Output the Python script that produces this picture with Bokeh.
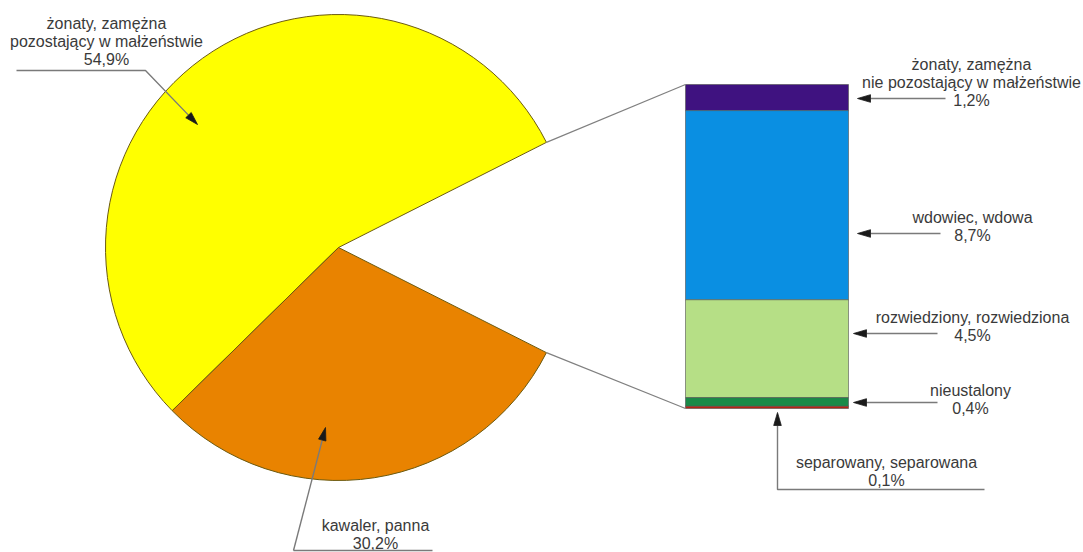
import math
from bokeh.plotting import figure
from bokeh.models import Range1d
from bokeh.core.properties import value
from bokeh.embed import file_html
from bokeh.resources import INLINE

# ---- data ----
pie_labels = ["żonaty, zamężna\npozostający w małżeństwie", "kawaler, panna"]
pie_values = [54.9, 30.2]
pie_colors = ["#FFFF00", "#E98300"]

bar_labels = ["żonaty, zamężna\nnie pozostający w małżeństwie", "wdowiec, wdowa",
              "rozwiedziony, rozwiedziona", "nieustalony", "separowany, separowana"]
bar_values = [1.2, 8.7, 4.5, 0.4, 0.1]
bar_colors = ["#3F1280", "#0A8FE2", "#B6DF86", "#1A8A48", "#B42414"]

W, H = 1083, 552
def P(xi, yi):
    return xi, H - yi

p = figure(width=W, height=H, x_range=Range1d(0, W), y_range=Range1d(0, H),
           output_backend="svg", toolbar_location=None,
           x_axis_location=None, y_axis_location=None, min_border=0)
p.grid.visible = False
p.outline_line_color = None
p.background_fill_color = "white"

FONT = value("Liberation Sans")
TXT = "#3a3a3a"

# ---- pie ----
cx, cy = P(338, 247)
R = 233
other = sum(bar_values)
half = other / 2 * 3.6
start = half
for v, c in zip(pie_values, pie_colors):
    end = start + v * 3.6
    p.wedge(x=cx, y=cy, radius=R, start_angle=start, end_angle=end,
            start_angle_units="deg", end_angle_units="deg", direction="anticlock",
            fill_color=c, line_color="#6b5a10", line_width=1)
    start = end

# ---- bar ----
bx0, btop = P(685, 84)
bx1, bbot = P(848, 408)
scale = (btop - bbot) / other
cur = btop
tops, bots = [], []
for v in bar_values:
    tops.append(cur)
    cur -= v * scale
    bots.append(cur)
p.quad(left=[bx0] * len(bar_values), right=[bx1] * len(bar_values), top=tops, bottom=bots,
       fill_color=bar_colors, line_color="#505050", line_width=0.6)

# ---- connector lines ----
a = math.radians(half)
p.line([cx + R * math.cos(a), bx0], [cy + R * math.sin(a), btop], line_color="#808080", line_width=1.2)
p.line([cx + R * math.cos(-a), bx0], [cy + R * math.sin(-a), bbot], line_color="#808080", line_width=1.2)

# ---- helpers ----
def arrow(points_img):
    pts = [P(*q) for q in points_img]
    xs = [q[0] for q in pts]; ys = [q[1] for q in pts]
    (x1, y1), (x2, y2) = pts[-2], pts[-1]
    d = math.hypot(x2 - x1, y2 - y1)
    ux, uy = (x2 - x1) / d, (y2 - y1) / d
    L, w = 13, 3.8
    bxp, byp = x2 - ux * L, y2 - uy * L
    xs[-1], ys[-1] = bxp, byp
    p.line(xs, ys, line_color="#7a7a7a", line_width=1.4)
    p.patch([x2, bxp - uy * w, bxp + uy * w], [y2, byp + ux * w, byp - ux * w],
            fill_color="#1a1a1a", line_color="#1a1a1a", line_width=0.8)

def label(xi, yi, lines):
    for k, t in enumerate(lines):
        x, y = P(xi, yi + 18 * k)
        p.text(x=[x], y=[y], text=[t], text_font=FONT, text_font_size="16px",
               text_color=TXT, text_align="center", text_baseline="middle")

# pie labels
label(106, 23, pie_labels[0].split("\n") + [f"{pie_values[0]}%".replace(".", ",")])
arrow([(16, 70), (145, 70), (197, 124)])
label(375, 525, pie_labels[1].split("\n") + [f"{pie_values[1]}%".replace(".", ",")])
p.line(*zip(P(293, 550), P(432, 550)), line_color="#7a7a7a", line_width=1.4)
arrow([(293, 550), (325, 427)])

# bar labels
pos = [(971, 64), (972, 217), (972, 317), (970, 390), (886, 462)]
for (xi, yi), lab, v in zip(pos, bar_labels, bar_values):
    label(xi, yi, lab.split("\n") + [f"{v}%".replace(".", ",")])
arrow([(945, 98), (857, 98)])
arrow([(940, 233), (857, 233)])
arrow([(937, 333), (853, 333)])
arrow([(937, 402), (853, 402)])
arrow([(984, 489), (777, 489), (777, 412)])

open("out.html", "w").write(file_html(p, INLINE))
